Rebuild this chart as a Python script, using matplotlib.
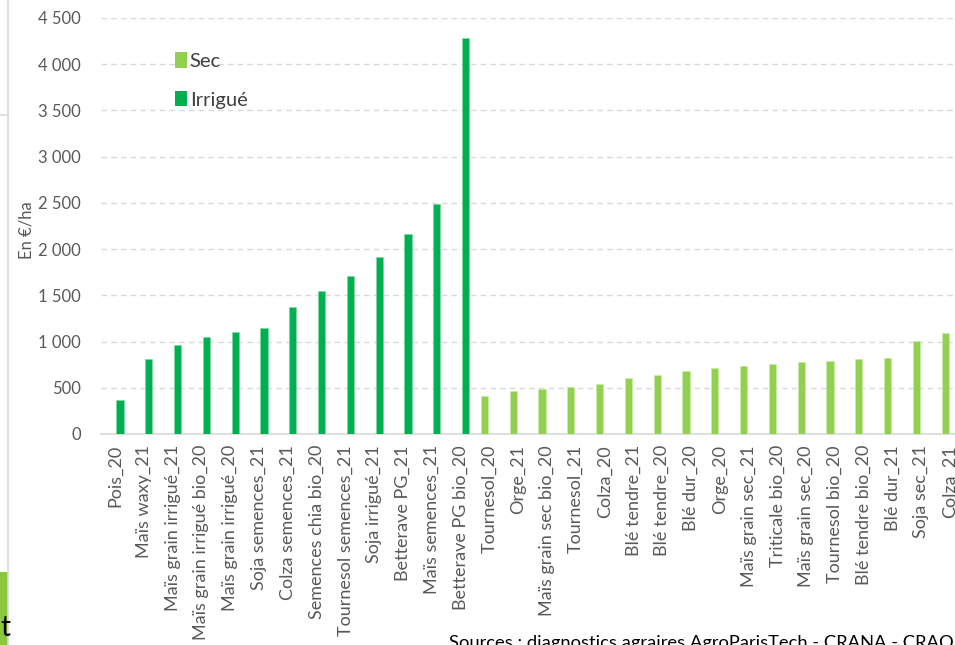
import matplotlib
matplotlib.use("Agg")
import matplotlib.pyplot as plt
from matplotlib.patches import Patch, Rectangle
from matplotlib.lines import Line2D

plt.rcParams['font.family'] = ['Lato', 'DejaVu Sans']

irr_categories = ["Pois_20", "Maïs waxy_21", "Maïs grain irrigué_21", "Maïs grain irrigué bio_20",
                  "Maïs grain irrigué_20", "Soja semences_21", "Colza semences_21",
                  "Semences chia bio_20", "Tournesol semences_21", "Soja irrigué_21",
                  "Betterave PG_21", "Maïs semences_21", "Betterave PG bio_20"]
irr_values = [372, 808, 967, 1049, 1108, 1147, 1378, 1547, 1706, 1915, 2160, 2485, 4284]

sec_categories = ["Tournesol_20", "Orge_21", "Maïs grain sec bio_20", "Tournesol_21", "Colza_20",
                  "Blé tendre_21", "Blé tendre_20", "Blé dur_20", "Orge_20", "Maïs grain sec_21",
                  "Triticale bio_20", "Maïs grain sec_20", "Tournesol bio_20", "Blé tendre bio_20",
                  "Blé dur_21", "Soja sec_21", "Colza_21"]
sec_values = [411, 469, 484, 513, 538, 610, 638, 678, 711, 736, 754, 779, 794, 808, 822, 1006, 1089]

y_ticks = [0, 500, 1000, 1500, 2000, 2500, 3000, 3500, 4000, 4500]
y_tick_labels = ["0", "500", "1 000", "1 500", "2 000", "2 500", "3 000", "3 500", "4 000", "4 500"]

C_IRR = "#00B050"
C_SEC = "#92D050"
GRAY = "#595959"

W, H = 955, 645
fig = plt.figure(figsize=(W / 100, H / 100), dpi=100)
ax = fig.add_axes([100.6 / W, (H - 434) / H, 864 / W, (434 - 18) / H])

categories = irr_categories + sec_categories
n_irr = len(irr_categories)
x_irr = [i + 0.174 for i in range(n_irr)]
x_sec = [n_irr + i - 0.174 for i in range(len(sec_categories))]
bw = 0.245
ax.bar(x_irr, irr_values, width=bw, color=C_IRR, edgecolor="#7FD8A8", linewidth=0.4, zorder=3)
ax.bar(x_sec, sec_values, width=bw, color=C_SEC, edgecolor="#C8EBA8", linewidth=0.4, zorder=3)

ax.set_xlim(-0.5, len(categories) - 0.5)
ax.set_ylim(0, 4500)
ax.set_yticks(y_ticks)
ax.set_yticklabels(y_tick_labels, color=GRAY, fontsize=12)
ax.set_xticks(range(len(categories)))
ax.set_xticklabels(categories, rotation=90, color=GRAY, fontsize=13, va="top", ha="center")
ax.tick_params(axis="x", length=0, pad=8)
ax.tick_params(axis="y", length=0, pad=14)
for s in ["top", "right", "left"]:
    ax.spines[s].set_visible(False)
ax.spines["bottom"].set_color("#D9D9D9")
ax.spines["bottom"].set_linewidth(1.2)
ax.yaxis.grid(True, color="#D9D9D9", linestyle=(0, (4, 3)), linewidth=1.0, zorder=0)
ax.set_axisbelow(True)

fig.text(27 / W, 1 - 230 / H, "En €/ha", rotation=90, color=GRAY, fontsize=12,
         ha="center", va="center")

handles = [Patch(facecolor=C_SEC, edgecolor="none", label="Sec"),
           Patch(facecolor=C_IRR, edgecolor="none", label="Irrigué")]
ax.legend(handles=handles, loc="upper left", bbox_to_anchor=(157 / W, 1 - 34 / H),
          bbox_transform=fig.transFigure, frameon=False, fontsize=14.5,
          handlelength=0.6, handleheight=0.8, handletextpad=0.12, labelspacing=1.05,
          labelcolor="#404040")

fig.text(449 / W, 1 - 648 / H, "Sources : diagnostics agraires AgroParisTech - CRANA - CRAO",
         fontsize=13.2, color="black", ha="left", va="baseline")

# screenshot edge artifacts
fig.add_artist(Line2D([8 / W, 8 / W], [0, 1], color="#D9D9D9", linewidth=1.2,
                      transform=fig.transFigure))
fig.add_artist(Line2D([0, 8 / W], [1 - 115 / H, 1 - 115 / H], color="#D9D9D9", linewidth=1.2,
                      transform=fig.transFigure))
fig.add_artist(Rectangle((0, 0), 7.5 / W, (645 - 572) / H, facecolor="#8CC63F",
                         edgecolor="none", transform=fig.transFigure))
fig.text(0 / W, 1 - 636 / H, "t", fontsize=20, color="black", ha="left", va="baseline")

fig.savefig("out.png", dpi=100)
